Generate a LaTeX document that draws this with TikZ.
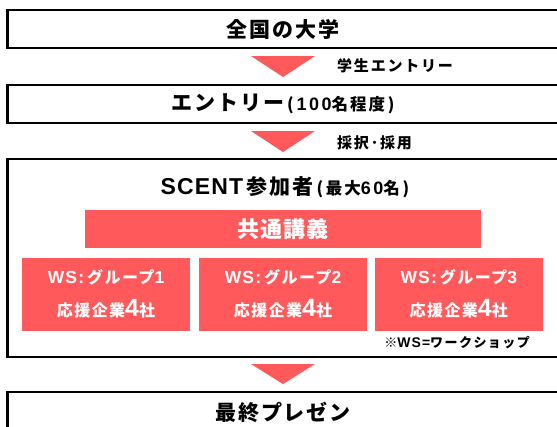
\documentclass[tikz,border=0pt]{standalone}
\usepackage{fontspec}
\setmainfont{Noto Sans CJK JP}
\newfontfamily\lat{Liberation Sans}
\definecolor{accent}{RGB}{255,89,92}
\tikzset{
  frame/.style={draw=black,line width=2.6pt,fill=white},
  redbox/.style={fill=accent,draw=none},
  tri/.style={fill=accent,draw=none},
  big/.style={font=\fontsize{21}{24}\selectfont\bfseries\addfontfeature{LetterSpace=9}},
  lbl/.style={font=\fontsize{15}{17}\selectfont\bfseries\addfontfeature{LetterSpace=12},anchor=west,inner sep=0pt},
  wstext/.style={text=white,font=\fontsize{16}{19}\selectfont\bfseries\addfontfeature{LetterSpace=9}},
}
\newcommand{\lt}[3]{{\fontsize{#1}{#1}\selectfont\lat\addfontfeature{LetterSpace=#2}#3}}
\newcommand{\sm}[1]{\hspace{3pt}{\fontsize{16.5}{18}\selectfont\addfontfeature{LetterSpace=12}#1}}
\begin{document}
\begin{tikzpicture}[x=1pt,y=-1pt]
\useasboundingbox (0,0) rectangle (557,426);
\clip (0,0) rectangle (557,426);
% frames
\draw[frame] (7.5,10) rectangle (600,48);
\draw[frame] (7.5,85) rectangle (600,123);
\draw[frame] (7.5,159) rectangle (600,357);
\draw[frame] (7.5,392) rectangle (600,460);
% titles
\node[big] (t1) at (283,29) {全国の大学};
\node[big] (t2) at (283,103.5) {エントリー\sm{(\,\lt{18}{14}{100}名程度\,)}};
\node[big] (t3) at (285,187) {\lt{23}{5}{SCENT}\,参加者\sm{(\,最大\lt{18}{14}{60}名\,)}};
\node[big] (t4) at (283,412) {最終プレゼン};
% arrows
\fill[tri] (251,56) -- (315,56) -- (283,77) -- cycle;
\fill[tri] (251,131) -- (315,131) -- (283,152) -- cycle;
\fill[tri] (251,364) -- (315,364) -- (283,384) -- cycle;
\node[lbl] (l1) at (337,65.5) {学生エントリー};
\node[lbl] (l2) at (337,143) {採択･採用};
% lecture
\fill[redbox] (85,210) rectangle (481,248);
\node[big,text=white,font=\fontsize{22}{24}\selectfont\bfseries\addfontfeature{LetterSpace=4}] (lec) at (283,229) {共通講義};
% WS groups
\foreach \i/\xa/\xb in {1/22/190,2/199/367,3/374.5/543}{
  \fill[redbox] (\xa,258) rectangle (\xb,331);
  \node[wstext] (ws\i) at ({(\xa+\xb)/2},277) {\lt{17.5}{7}{WS:\,}グループ\lt{17.5}{7}{\i}};
  \node[wstext] (co\i) at ({(\xa+\xb)/2},308.5) {応援企業\lt{25}{5}{4}社};
}
\node[font=\fontsize{13}{15}\selectfont\bfseries\addfontfeature{LetterSpace=11},anchor=east,inner sep=0pt] (note) at (530,343) {※\lt{14}{8}{WS=}ワークショップ};
\end{tikzpicture}
\end{document}
